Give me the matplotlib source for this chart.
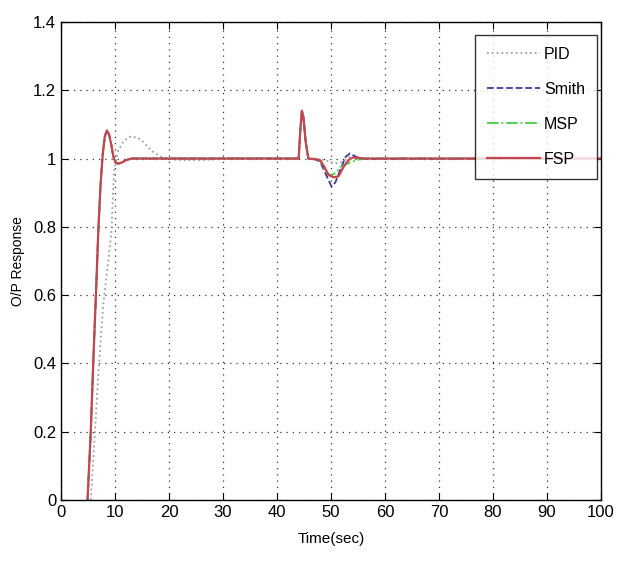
import matplotlib
matplotlib.use('Agg')
import numpy as np
import matplotlib.pyplot as plt

fam = ['Liberation Sans Narrow', 'Liberation Sans', 'DejaVu Sans']
plt.rcParams['font.family'] = fam

# FSP response
t_fsp = [4.9, 5.5, 6.0, 6.5, 6.9, 7.3, 7.7, 8.1, 8.5, 8.9, 9.3, 9.7, 10.1, 10.6, 11.2, 12.0, 13.0,
         44.0, 44.3, 44.6, 44.9, 45.3, 45.8, 47.0, 48.0, 48.8, 49.5, 50.5, 51.4, 52.3, 53.2, 54.0,
         55.0, 56.0, 100]
y_fsp = [0, 0.2, 0.42, 0.62, 0.79, 0.92, 1.01, 1.065, 1.082, 1.07, 1.04, 1.005, 0.988, 0.985, 0.988,
         0.995, 1.0, 1.0, 1.08, 1.14, 1.12, 1.05, 1.0, 0.998, 0.995, 0.975, 0.952, 0.945, 0.948,
         0.975, 0.995, 1.003, 1.002, 1.0, 1.0]

# Smith predictor
t_smith = [4.9, 5.5, 6.0, 6.5, 6.9, 7.3, 7.7, 8.1, 8.5, 8.9, 9.3, 9.7, 10.1, 10.6, 11.2, 12.0, 13.0,
           44.0, 44.3, 44.6, 44.9, 45.3, 45.8, 47.0, 48.0, 49.0, 50.1, 50.8, 51.8, 52.7, 53.5, 54.3,
           55.3, 56.0, 100]
y_smith = [0, 0.2, 0.42, 0.62, 0.79, 0.92, 1.01, 1.065, 1.082, 1.07, 1.04, 1.005, 0.988, 0.985, 0.988,
           0.995, 1.0, 1.0, 1.08, 1.14, 1.12, 1.05, 1.0, 0.998, 0.99, 0.955, 0.918, 0.93, 0.97, 1.005,
           1.015, 1.008, 1.0, 0.999, 1.0]

# Modified Smith predictor
t_msp = [4.9, 5.5, 6.0, 6.5, 6.9, 7.3, 7.7, 8.1, 8.5, 8.9, 9.3, 9.7, 10.1, 10.6, 11.2, 12.0, 13.0,
         44.0, 44.3, 44.6, 44.9, 45.3, 45.8, 47.0, 48.0, 49.0, 50.0, 51.0, 51.7, 53.0, 54.8, 56.4, 100]
y_msp = [0, 0.2, 0.42, 0.62, 0.79, 0.92, 1.01, 1.065, 1.082, 1.07, 1.04, 1.005, 0.988, 0.985, 0.988,
         0.995, 1.0, 1.0, 1.08, 1.14, 1.12, 1.05, 1.0, 0.998, 0.992, 0.962, 0.95, 0.96, 0.975, 0.985,
         0.996, 1.0, 1.0]

# PID
t_pid = [5.5, 6.2, 6.9, 7.8, 8.6, 9.3, 9.8, 10.5, 11.5, 12.8, 14.0, 14.9, 16.0, 17.0, 18.5, 20.0,
         23.0, 27.0, 30.0, 44.0, 44.3, 44.6, 44.9, 45.3, 45.8, 47.0, 49.0, 50.5, 52.0, 53.5, 55.0,
         57.0, 100]
y_pid = [0, 0.18, 0.37, 0.57, 0.68, 0.78, 0.96, 1.02, 1.05, 1.064, 1.062, 1.054, 1.035, 1.02, 1.005,
         0.998, 0.995, 0.996, 1.0, 1.0, 1.08, 1.14, 1.12, 1.05, 1.0, 1.0, 0.995, 0.985, 0.99, 1.005,
         1.003, 1.0, 1.0]

fig = plt.figure(figsize=(6.17, 5.63), dpi=100)
ax = fig.add_axes([0.099, 0.112, 0.875, 0.849])

ax.plot(t_pid, y_pid, color='#a0a0a0', linestyle=':', linewidth=1.3, label='PID')
ax.plot(t_smith, y_smith, color='#3a3a9a', linestyle='--', linewidth=1.3, label='Smith')
ax.plot(t_msp, y_msp, color='#44cc44', linestyle='-.', linewidth=1.3, label='MSP')
ax.plot(t_fsp, y_fsp, color='#c44450', linestyle='-', linewidth=1.6, label='FSP')

ax.set_xlim(0, 100)
ax.set_ylim(0, 1.4)
ax.set_xticks(np.arange(0, 101, 10))
ax.set_yticks(np.arange(0, 1.41, 0.2))
ax.set_yticklabels(['0', '0.2', '0.4', '0.6', '0.8', '1', '1.2', '1.4'])
ax.grid(True, color='#333333', linestyle=(0, (1, 4)), linewidth=0.9)
ax.tick_params(direction='in', top=True, right=True, labelsize=12, length=5)
for s in ax.spines.values():
    s.set_linewidth(1.0)

ax.set_xlabel('Time(sec)', fontsize=11, labelpad=9)
ax.set_ylabel('O/P Response', fontsize=10, labelpad=6)

leg = ax.legend(loc='upper right', bbox_to_anchor=(0.9926, 0.9728), borderaxespad=0,
                fontsize=11.5, frameon=True, fancybox=False, edgecolor='black',
                handlelength=3.3, labelspacing=1.25, borderpad=0.75, handletextpad=0.25)
leg.get_frame().set_linewidth(1.0)

fig.savefig('out.png', dpi=100)
